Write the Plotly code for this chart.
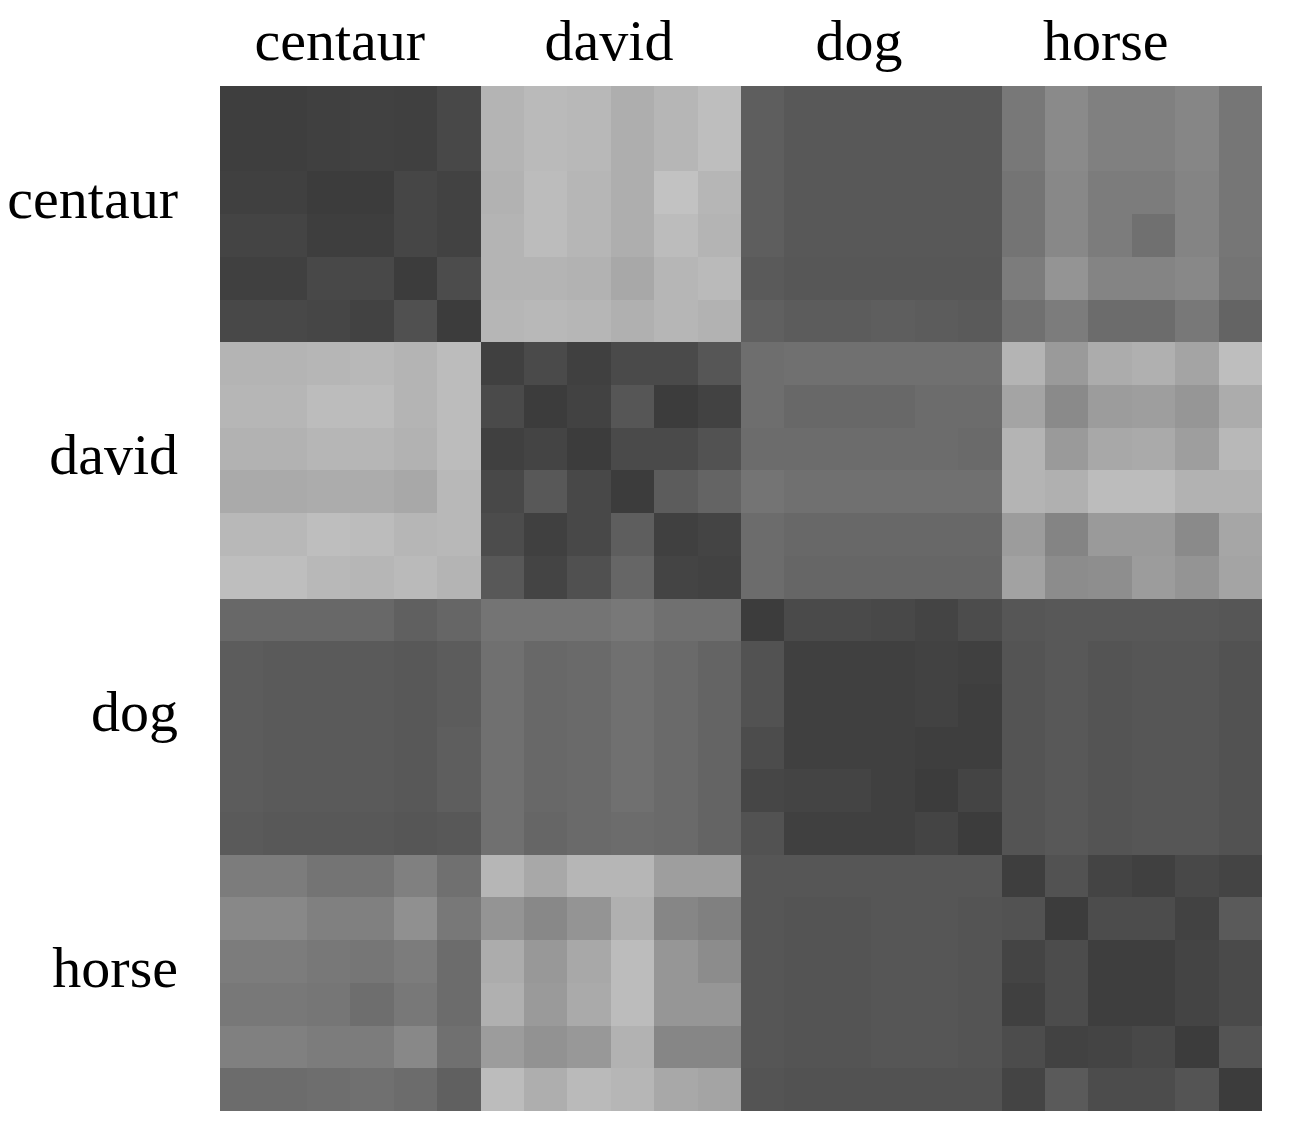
import numpy as np
import plotly.graph_objects as go

categories = ["centaur", "david", "dog", "horse"]
n_per = 6

# grey level (0-255) of each cell, block by block (row group, column group)
cc = [[0x3e,0x3e,0x40,0x41,0x40,0x48],
      [0x3e,0x3e,0x40,0x41,0x40,0x48],
      [0x40,0x40,0x3c,0x3c,0x46,0x42],
      [0x44,0x44,0x3e,0x3e,0x46,0x42],
      [0x40,0x40,0x48,0x48,0x3c,0x4c],
      [0x48,0x48,0x46,0x42,0x50,0x3c]]
cd = [[0xb4,0xba,0xb8,0xae,0xb6,0xbe],
      [0xb4,0xba,0xb8,0xae,0xb6,0xbe],
      [0xb2,0xbc,0xb6,0xae,0xc2,0xb6],
      [0xb4,0xbc,0xb6,0xae,0xbc,0xb4],
      [0xb4,0xb4,0xb2,0xa8,0xb6,0xba],
      [0xb6,0xb8,0xb6,0xb0,0xb6,0xb2]]
cg = [[0x5e,0x58,0x58,0x58,0x58,0x58],
      [0x5e,0x58,0x58,0x58,0x58,0x58],
      [0x5e,0x58,0x58,0x58,0x58,0x58],
      [0x5e,0x58,0x58,0x58,0x58,0x58],
      [0x5a,0x57,0x57,0x57,0x57,0x57],
      [0x60,0x5c,0x5c,0x5e,0x5c,0x5a]]
ch = [[0x78,0x8a,0x80,0x80,0x86,0x76],
      [0x78,0x8a,0x80,0x80,0x86,0x76],
      [0x74,0x88,0x7c,0x7c,0x84,0x76],
      [0x74,0x88,0x7c,0x70,0x84,0x76],
      [0x7c,0x94,0x84,0x84,0x88,0x74],
      [0x70,0x7c,0x6c,0x6c,0x78,0x64]]

dc = [[0xb4,0xb4,0xb6,0xb8,0xb4,0xbc],
      [0xb6,0xb6,0xbc,0xbc,0xb4,0xbc],
      [0xb2,0xb2,0xb6,0xb6,0xb2,0xbc],
      [0xaa,0xaa,0xac,0xac,0xa8,0xb8],
      [0xb8,0xb8,0xbe,0xbc,0xb6,0xb8],
      [0xbe,0xbe,0xb8,0xb6,0xba,0xb4]]
dd = [[0x40,0x4a,0x40,0x4a,0x4a,0x56],
      [0x4a,0x3c,0x42,0x56,0x3c,0x42],
      [0x40,0x44,0x3c,0x4a,0x4a,0x52],
      [0x48,0x58,0x48,0x3c,0x5c,0x64],
      [0x4c,0x40,0x48,0x5e,0x40,0x44],
      [0x58,0x44,0x50,0x66,0x44,0x42]]
dg = [[0x6e,0x70,0x70,0x70,0x70,0x70],
      [0x6e,0x68,0x68,0x68,0x6c,0x6c],
      [0x6c,0x6c,0x6c,0x6c,0x6c,0x6a],
      [0x74,0x70,0x70,0x70,0x70,0x70],
      [0x6c,0x68,0x68,0x68,0x68,0x68],
      [0x6c,0x66,0x66,0x66,0x66,0x66]]
dh = [[0xb4,0x9a,0xac,0xb0,0xa4,0xbe],
      [0xa4,0x8a,0x9c,0x9e,0x96,0xac],
      [0xb4,0x9a,0xa8,0xaa,0x9e,0xb8],
      [0xb4,0xb0,0xbc,0xbc,0xb2,0xb2],
      [0x9c,0x84,0x9a,0x9a,0x8a,0xa6],
      [0xa2,0x8c,0x8e,0x9c,0x94,0xa4]]

gc = [[0x68,0x68,0x68,0x68,0x60,0x66],
      [0x5c,0x5a,0x5a,0x5a,0x58,0x5c],
      [0x5c,0x5a,0x5a,0x5a,0x58,0x5c],
      [0x5c,0x5a,0x5a,0x5a,0x58,0x5e],
      [0x5c,0x5a,0x5a,0x5a,0x58,0x5e],
      [0x5a,0x58,0x58,0x58,0x56,0x58]]
gd = [[0x74,0x74,0x74,0x78,0x70,0x70],
      [0x70,0x68,0x6a,0x70,0x6a,0x64],
      [0x70,0x68,0x6a,0x70,0x6a,0x64],
      [0x70,0x68,0x6a,0x70,0x6a,0x64],
      [0x70,0x68,0x6a,0x70,0x6a,0x64],
      [0x70,0x66,0x6a,0x6c,0x6a,0x64]]
gg = [[0x3c,0x4a,0x4a,0x48,0x44,0x4c],
      [0x52,0x40,0x40,0x40,0x42,0x40],
      [0x52,0x40,0x40,0x40,0x42,0x3e],
      [0x4c,0x40,0x40,0x40,0x3e,0x3e],
      [0x46,0x44,0x44,0x40,0x3c,0x44],
      [0x52,0x40,0x40,0x40,0x44,0x3c]]
gh = [[0x56,0x58,0x58,0x58,0x58,0x56],
      [0x54,0x58,0x54,0x56,0x56,0x52],
      [0x54,0x58,0x54,0x56,0x56,0x52],
      [0x54,0x58,0x54,0x56,0x56,0x52],
      [0x54,0x58,0x54,0x56,0x56,0x52],
      [0x54,0x58,0x54,0x56,0x56,0x52]]

hc = [[0x7c,0x7c,0x74,0x74,0x80,0x70],
      [0x88,0x88,0x80,0x80,0x90,0x78],
      [0x7c,0x7c,0x78,0x76,0x7c,0x6c],
      [0x78,0x78,0x76,0x6e,0x78,0x6c],
      [0x80,0x80,0x7c,0x7c,0x88,0x70],
      [0x6c,0x6c,0x6e,0x70,0x6c,0x60]]
hd = [[0xb6,0xa8,0xb6,0xb6,0x9e,0x9e],
      [0x94,0x88,0x94,0xb0,0x86,0x80],
      [0xac,0x98,0xa8,0xbc,0x96,0x8c],
      [0xb0,0x9a,0xaa,0xbc,0x96,0x96],
      [0x9c,0x92,0x98,0xb2,0x86,0x86],
      [0xbc,0xae,0xba,0xb6,0xa8,0xa4]]
hg = [[0x56,0x56,0x56,0x56,0x56,0x56],
      [0x56,0x54,0x54,0x56,0x56,0x54],
      [0x56,0x54,0x54,0x56,0x56,0x54],
      [0x56,0x54,0x54,0x56,0x56,0x54],
      [0x56,0x54,0x54,0x56,0x56,0x54],
      [0x54,0x52,0x52,0x52,0x52,0x52]]
hh = [[0x3e,0x52,0x44,0x40,0x48,0x44],
      [0x52,0x3c,0x4c,0x4c,0x42,0x5a],
      [0x44,0x4c,0x3e,0x3e,0x44,0x4a],
      [0x40,0x4c,0x3e,0x3e,0x44,0x4a],
      [0x4c,0x42,0x44,0x48,0x3c,0x54],
      [0x44,0x5a,0x4c,0x4c,0x54,0x3c]]

blocks = [[cc, cd, cg, ch],
          [dc, dd, dg, dh],
          [gc, gd, gg, gh],
          [hc, hd, hg, hh]]
z = np.block([[np.array(b) for b in row] for row in blocks])

N = n_per * len(categories)
fig = go.Figure(go.Heatmap(
    z=z, x=list(range(N)), y=list(range(N)),
    zmin=0, zmax=255,
    colorscale=[[0, "rgb(0,0,0)"], [1, "rgb(255,255,255)"]],
    showscale=False, hoverinfo="skip",
))

font = dict(family="Liberation Serif, Times New Roman, serif", size=58, color="black")
top_pos = [2.26, 8.46, 14.22, 19.9]
left_pos = [(i + 0.5) * n_per - 0.5 - 0.38 for i in range(len(categories))]

fig.update_layout(
    width=1282, height=1124,
    margin=dict(l=212, r=28, t=78, b=21),
    paper_bgcolor="white", plot_bgcolor="white",
    xaxis=dict(side="top", range=[-0.5, N - 0.5], tickvals=top_pos, ticktext=categories,
               showgrid=False, zeroline=False, ticks="", tickfont=font,
               ticklabelstandoff=13, automargin=False),
    yaxis=dict(range=[N - 0.5, -0.5], tickvals=left_pos, ticktext=categories,
               showgrid=False, zeroline=False, ticks="", tickfont=font,
               ticklabelstandoff=41, automargin=False),
)
fig.write_html("out.html")
